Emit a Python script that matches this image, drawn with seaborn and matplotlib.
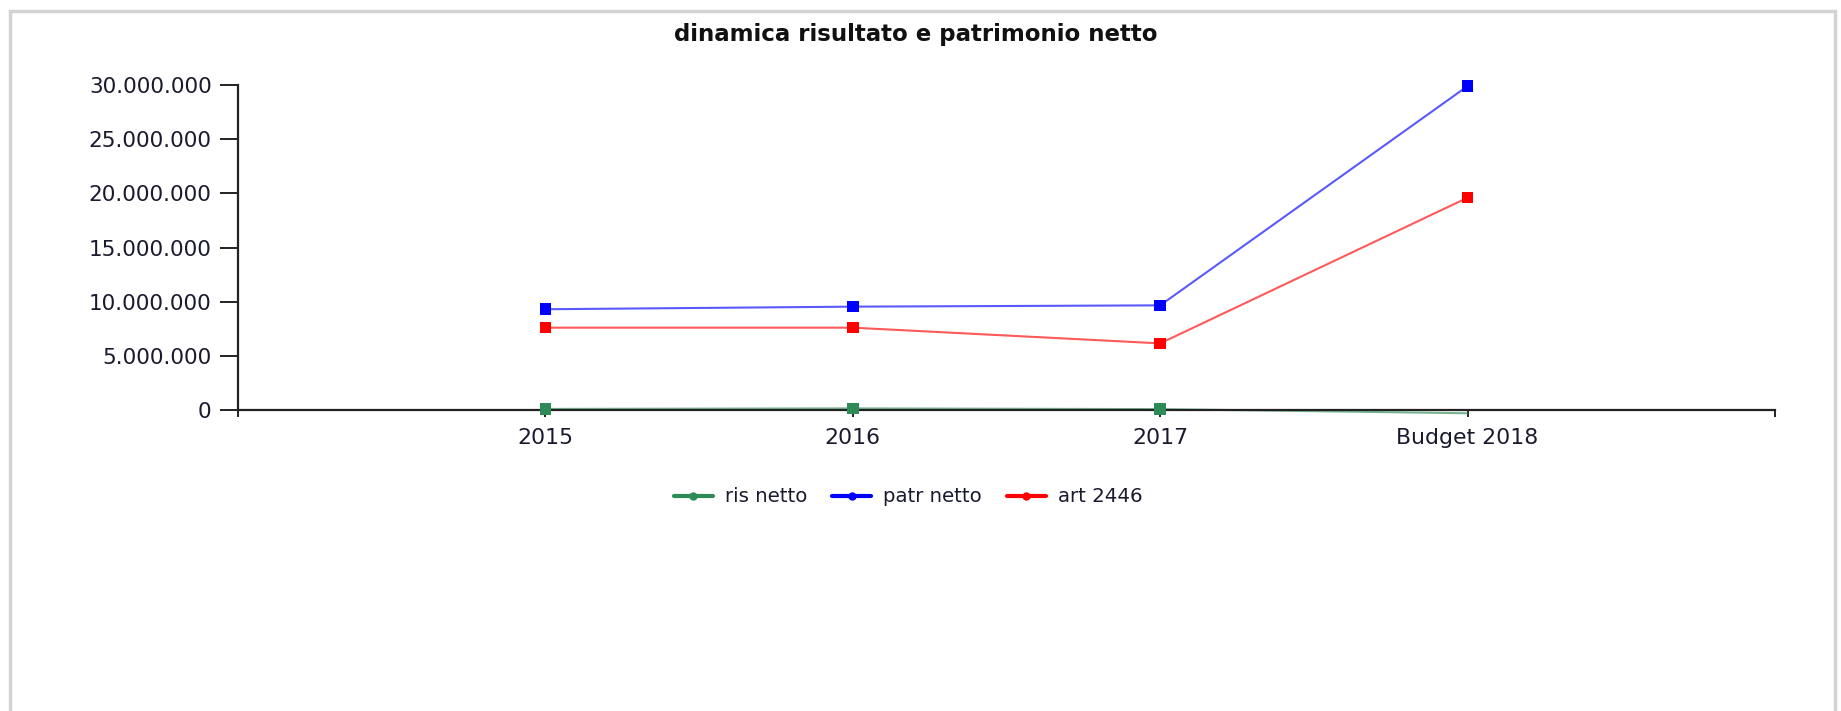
import matplotlib
matplotlib.use("Agg")
import matplotlib.pyplot as plt
from matplotlib.lines import Line2D
from matplotlib.patches import Rectangle
from matplotlib.ticker import FuncFormatter
import seaborn as sns
import pandas as pd

categories = ["2015", "2016", "2017", "Budget 2018"]
ris_netto = [100000, 150000, 80000, -300000]
patr_netto = [9300000, 9540000, 9660000, 29900000]
art_2446 = [7600000, 7600000, 6150000, 19600000]
series_names = ["ris netto", "patr netto", "art 2446"]
title = "dinamica risultato e patrimonio netto"

colors = {"ris netto": "#2e8b57", "patr netto": "#0000ff", "art 2446": "#ff0000"}

rows = []
for name, vals in zip(series_names, [ris_netto, patr_netto, art_2446]):
    for i, (c, v) in enumerate(zip(categories, vals)):
        rows.append({"x": i, "cat": c, "value": v, "serie": name})
df = pd.DataFrame(rows)

sns.set_style("white")
plt.rcParams["font.family"] = ["DejaVu Sans"]

fig = plt.figure(figsize=(18.41, 7.11), dpi=100)
W, H = 1841, 711
ax = fig.add_axes([238 / W, (H - 410) / H, (1775 - 238) / W, (410 - 85) / H])

sns.lineplot(data=df, x="x", y="value", hue="serie", palette=colors,
             linewidth=1.5, alpha=0.65, ax=ax, legend=False, sort=False)
for ln in ax.lines:
    ln.set_clip_on(False)
df_m = df[~((df["serie"] == "ris netto") & (df["x"] == 3))]
sns.scatterplot(data=df_m, x="x", y="value", hue="serie", palette=colors,
                marker="s", s=70, linewidth=0, ax=ax, legend=False, zorder=3,
                clip_on=False)

ax.set_xlim(-1, 4)
ax.set_ylim(0, 30000000)
ax.set_xticks([-1, 0, 1, 2, 3, 4])
ax.set_xticklabels([""] + categories + [""])
ax.set_yticks([0, 5e6, 10e6, 15e6, 20e6, 25e6, 30e6])
ax.yaxis.set_major_formatter(FuncFormatter(lambda v, p: f"{int(v):,}".replace(",", ".")))
ax.set_xlabel("")
ax.set_ylabel("")

for s in ["top", "right"]:
    ax.spines[s].set_visible(False)
for s in ["left", "bottom"]:
    ax.spines[s].set_color("#222222")
    ax.spines[s].set_linewidth(1.6)

ax.tick_params(axis="y", direction="out", length=13, width=1.4, color="#222222",
               labelsize=15.5, labelcolor="#1a1a2e", pad=6, left=True)
ax.tick_params(axis="x", direction="out", length=5, width=1.4, color="#222222",
               labelsize=15.8, labelcolor="#1a1a2e", pad=8, bottom=True)

fig.text(916 / W, 1 - 34 / H, title, ha="center", va="center",
         fontsize=16.5, fontweight="bold", color="#111111")

handles = [Line2D([0], [0], color=colors[n], lw=3, marker="o", markersize=5)
           for n in series_names]
fig.legend(handles, series_names, loc="center", bbox_to_anchor=(908 / W, 1 - 497 / H),
           ncol=3, frameon=False, fontsize=14.2, handlelength=2.0,
           handletextpad=0.6, columnspacing=1.25, labelcolor="#1a1a2e")

fig.patches.append(Rectangle((10 / W, -0.1), (1835 - 10) / W, 1 - 11 / H + 0.1,
                             transform=fig.transFigure, fill=False,
                             edgecolor="#d3d3d3", linewidth=2.5))

fig.savefig("out.png", dpi=100, facecolor="white")
